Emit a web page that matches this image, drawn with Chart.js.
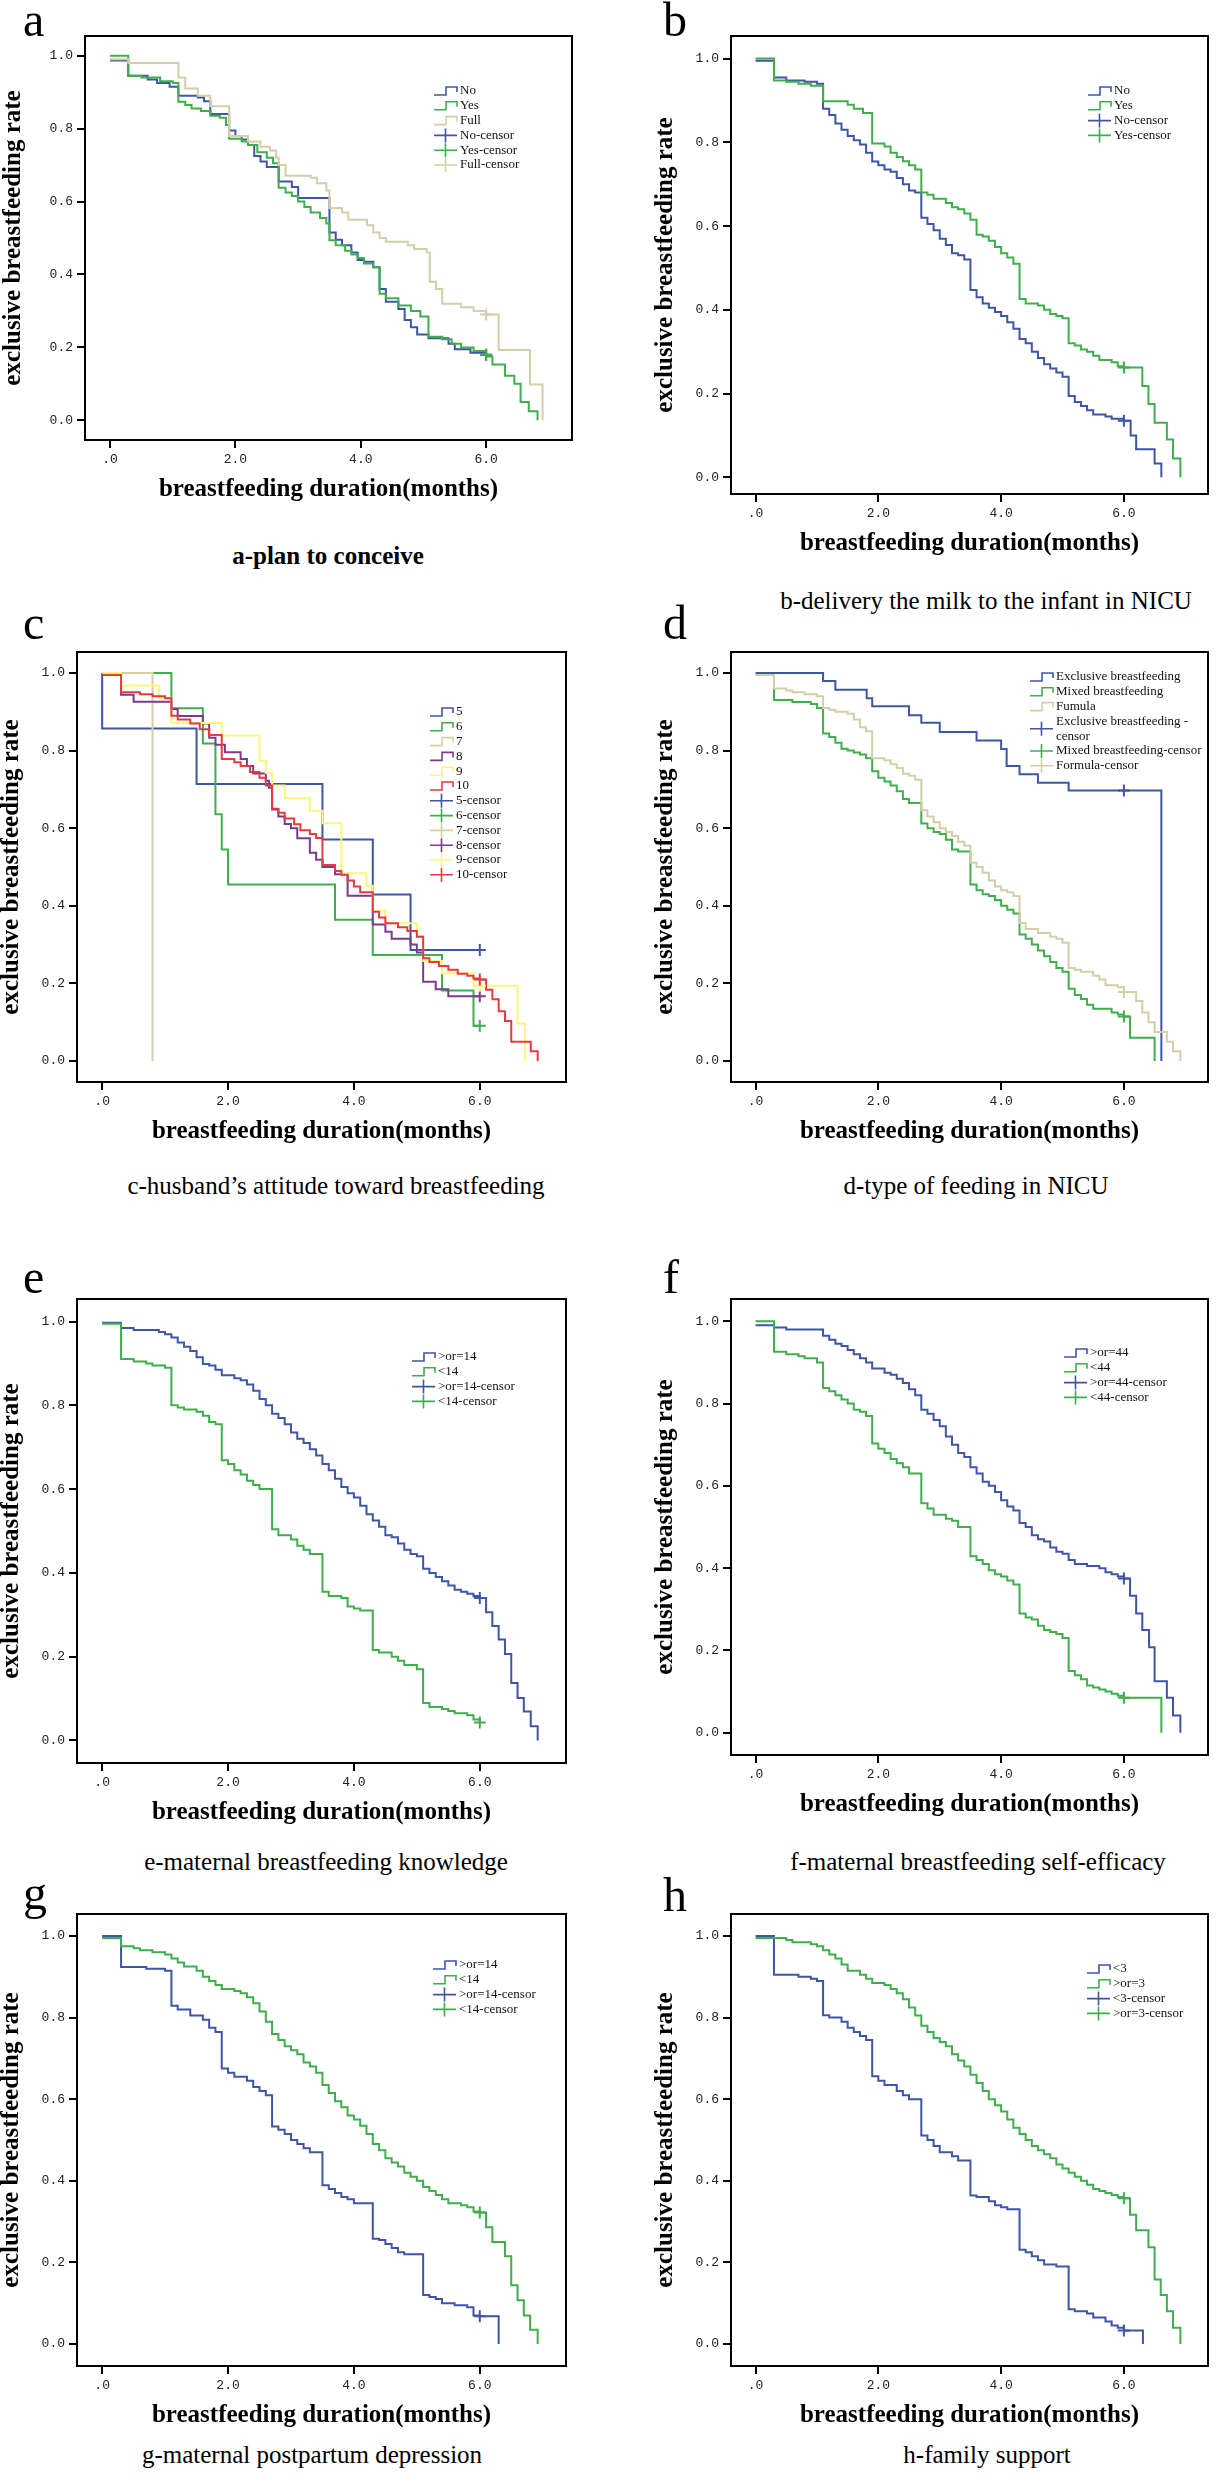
<!DOCTYPE html>
<html>
<head>
<meta charset="utf-8">
<script src="https://cdn.jsdelivr.net/npm/chart.js@4.4.1/dist/chart.umd.min.js"></script>
<style>
  html, body { margin: 0; padding: 0; background: #fff; }
  #page { position: relative; width: 1216px; height: 2482px; overflow: hidden;
          font-family: "Liberation Serif", "Times New Roman", serif; color: #000; }
  canvas { position: absolute; }
  .letter { position: absolute; font-size: 48px; line-height: 48px; }
  .caption { position: absolute; font-size: 25px; line-height: 30px; white-space: nowrap;
             transform: translateX(-50%); }
</style>
</head>
<body>
<div id="page"></div>
<script>
// ticks
var X_TICKS = [0, 2, 4, 6];
var Y_TICKS = [0, 0.2, 0.4, 0.6, 0.8, 1.0];

// survival steps: [month, rate]; censor marks: [month, rate]
// a - plan to conceive
var aNo = [[0,0.987],[0.29,0.945],[0.6,0.935],[0.75,0.925],[0.95,0.915],[1.09,0.89],[1.4,0.885],[1.5,0.875],[1.6,0.84],[1.9,0.795],[2.0,0.78],[2.1,0.77],[2.2,0.755],[2.3,0.725],[2.4,0.71],[2.5,0.695],[2.69,0.655],[2.9,0.64],[3.0,0.61],[3.5,0.515],[3.6,0.495],[3.7,0.48],[3.85,0.46],[3.95,0.44],[4.05,0.435],[4.2,0.42],[4.3,0.36],[4.4,0.325],[4.6,0.305],[4.7,0.275],[4.8,0.255],[4.9,0.235],[5.08,0.225],[5.4,0.21],[5.5,0.195],[5.75,0.185],[6.0,0.18]];
var aYes = [[0,1.0],[0.29,0.945],[0.5,0.94],[0.8,0.93],[1.0,0.925],[1.09,0.874],[1.2,0.865],[1.3,0.855],[1.45,0.848],[1.6,0.835],[1.75,0.83],[1.85,0.81],[1.9,0.772],[2.1,0.765],[2.2,0.755],[2.35,0.735],[2.5,0.72],[2.6,0.705],[2.69,0.638],[2.8,0.625],[2.9,0.615],[3.0,0.60],[3.1,0.585],[3.2,0.57],[3.35,0.555],[3.45,0.54],[3.5,0.494],[3.6,0.48],[3.75,0.465],[3.85,0.455],[3.95,0.445],[4.05,0.43],[4.2,0.42],[4.3,0.347],[4.4,0.335],[4.6,0.315],[4.8,0.30],[4.95,0.285],[5.08,0.229],[5.3,0.222],[5.45,0.21],[5.6,0.20],[5.8,0.19],[6.0,0.175],[6.1,0.153],[6.3,0.122],[6.45,0.10],[6.55,0.05],[6.68,0.025],[6.82,0]];
var aFull = [[0,0.99],[0.29,0.98],[1.09,0.94],[1.2,0.91],[1.4,0.89],[1.6,0.861],[1.9,0.78],[2.2,0.765],[2.4,0.75],[2.55,0.74],[2.65,0.72],[2.69,0.70],[2.8,0.671],[3.2,0.665],[3.3,0.65],[3.45,0.63],[3.5,0.582],[3.7,0.57],[3.8,0.55],[4.1,0.535],[4.2,0.515],[4.3,0.50],[4.4,0.49],[4.75,0.48],[4.85,0.47],[5.05,0.46],[5.1,0.38],[5.2,0.36],[5.3,0.32],[5.6,0.31],[5.8,0.30],[6.0,0.29],[6.2,0.193],[6.7,0.098],[6.9,0]];
var aNoC = [[6.0,0.18]];
var aYesC = [[6.0,0.18]];
var aFullC = [[6.0,0.29]];

// b - delivery the milk
var bNo = [[0,0.995],[0.3,0.955],[0.5,0.948],[0.8,0.945],[1.0,0.94],[1.1,0.88],[1.2,0.865],[1.3,0.845],[1.4,0.83],[1.5,0.815],[1.6,0.805],[1.7,0.795],[1.8,0.775],[1.9,0.754],[2.0,0.745],[2.1,0.735],[2.2,0.73],[2.3,0.715],[2.4,0.70],[2.5,0.685],[2.6,0.68],[2.7,0.62],[2.8,0.605],[2.9,0.59],[3.0,0.57],[3.1,0.555],[3.2,0.535],[3.3,0.53],[3.4,0.52],[3.5,0.447],[3.6,0.43],[3.7,0.415],[3.8,0.405],[3.9,0.395],[4.0,0.385],[4.1,0.37],[4.2,0.355],[4.3,0.33],[4.4,0.32],[4.5,0.30],[4.6,0.285],[4.7,0.27],[4.8,0.26],[4.9,0.25],[5.0,0.24],[5.1,0.194],[5.2,0.18],[5.3,0.17],[5.4,0.16],[5.5,0.15],[5.7,0.145],[5.8,0.14],[6.0,0.135],[6.11,0.10],[6.2,0.067],[6.5,0.033],[6.61,0]];
var bYes = [[0,1.0],[0.3,0.948],[0.5,0.945],[0.7,0.94],[0.9,0.935],[1.1,0.898],[1.5,0.89],[1.6,0.88],[1.75,0.87],[1.9,0.797],[2.1,0.79],[2.2,0.775],[2.3,0.765],[2.4,0.755],[2.5,0.745],[2.6,0.735],[2.7,0.68],[2.8,0.675],[2.9,0.665],[3.1,0.655],[3.2,0.645],[3.3,0.64],[3.4,0.63],[3.5,0.615],[3.6,0.579],[3.7,0.575],[3.8,0.565],[3.9,0.55],[4.0,0.535],[4.1,0.525],[4.2,0.51],[4.3,0.426],[4.4,0.415],[4.6,0.41],[4.7,0.40],[4.8,0.39],[4.9,0.385],[5.0,0.38],[5.1,0.32],[5.2,0.315],[5.3,0.305],[5.4,0.30],[5.5,0.29],[5.6,0.28],[5.8,0.275],[5.9,0.265],[6.0,0.262],[6.3,0.218],[6.4,0.175],[6.5,0.13],[6.7,0.09],[6.8,0.045],[6.92,0]];
var bNoC = [[6.0,0.135]];
var bYesC = [[6.0,0.262]];

// c - husband's attitude
var c5 = [[0,1.0],[0,0.857],[1.5,0.714],[3.5,0.571],[4.3,0.429],[4.9,0.286],[6.0,0.286]];
var c6 = [[0,1.0],[1.1,0.909],[1.6,0.818],[1.8,0.636],[1.9,0.545],[2.0,0.455],[3.7,0.364],[4.3,0.273],[5.4,0.182],[5.9,0.091],[6.0,0.091]];
var c7 = [[0,1.0],[0.8,0]];
var c8 = [[0,1.0],[0.3,0.944],[0.5,0.926],[1.1,0.907],[1.2,0.889],[1.6,0.87],[1.7,0.833],[1.8,0.815],[1.95,0.796],[2.2,0.778],[2.3,0.76],[2.4,0.741],[2.6,0.722],[2.65,0.704],[2.7,0.648],[2.8,0.63],[2.9,0.611],[3.0,0.60],[3.1,0.574],[3.3,0.537],[3.4,0.519],[3.5,0.50],[3.7,0.481],[3.9,0.426],[4.3,0.352],[4.5,0.333],[4.6,0.315],[4.9,0.30],[5.0,0.28],[5.1,0.204],[5.3,0.185],[5.5,0.167],[6.0,0.167]];
var c9 = [[0,1.0],[0.3,0.968],[0.9,0.935],[1.1,0.871],[1.9,0.839],[2.5,0.774],[2.6,0.742],[2.7,0.71],[2.9,0.677],[3.3,0.645],[3.5,0.613],[3.8,0.484],[4.2,0.452],[4.3,0.387],[4.5,0.355],[5.0,0.323],[5.1,0.258],[5.4,0.226],[5.9,0.194],[6.6,0.097],[6.72,0]];
var c10 = [[0,0.995],[0.3,0.95],[0.6,0.945],[0.8,0.94],[1.0,0.935],[1.1,0.89],[1.2,0.88],[1.4,0.87],[1.55,0.855],[1.7,0.84],[1.9,0.778],[2.1,0.77],[2.2,0.76],[2.35,0.745],[2.5,0.73],[2.6,0.71],[2.7,0.65],[2.8,0.64],[2.9,0.625],[3.05,0.61],[3.15,0.595],[3.3,0.585],[3.4,0.575],[3.5,0.505],[3.7,0.49],[3.8,0.48],[3.9,0.465],[4.0,0.45],[4.1,0.435],[4.3,0.385],[4.4,0.37],[4.5,0.355],[4.7,0.345],[4.85,0.335],[5.0,0.32],[5.1,0.265],[5.2,0.255],[5.35,0.245],[5.5,0.235],[5.65,0.225],[5.8,0.22],[5.9,0.213],[6.0,0.21],[6.1,0.184],[6.2,0.159],[6.3,0.128],[6.4,0.103],[6.5,0.05],[6.81,0.025],[6.92,0]];
var c5C = [[6.0,0.286]];
var c6C = [[6.0,0.091]];
var c7C = [];
var c8C = [[6.0,0.167]];
var c9C = [[6.0,0.194]];
var c10C = [[6.0,0.21]];

// d - type of feeding in NICU
var dExcl = [[0,1.0],[1.1,0.979],[1.3,0.957],[1.81,0.935],[1.9,0.914],[2.5,0.891],[2.7,0.872],[3.0,0.848],[3.6,0.826],[4.0,0.804],[4.09,0.76],[4.3,0.739],[4.6,0.717],[5.1,0.697],[6.0,0.697],[6.61,0]];
var dMixed = [[0,0.995],[0.3,0.93],[0.6,0.925],[0.9,0.92],[1.0,0.91],[1.1,0.844],[1.2,0.835],[1.3,0.82],[1.4,0.805],[1.5,0.80],[1.6,0.795],[1.7,0.79],[1.8,0.78],[1.9,0.747],[2.0,0.73],[2.1,0.72],[2.2,0.71],[2.3,0.695],[2.4,0.675],[2.5,0.665],[2.7,0.612],[2.8,0.60],[2.9,0.59],[3.0,0.585],[3.1,0.57],[3.2,0.545],[3.3,0.54],[3.5,0.455],[3.6,0.44],[3.7,0.43],[3.8,0.425],[3.9,0.415],[4.0,0.40],[4.1,0.39],[4.2,0.38],[4.3,0.326],[4.4,0.315],[4.5,0.30],[4.6,0.285],[4.7,0.27],[4.8,0.255],[4.9,0.24],[5.0,0.23],[5.1,0.186],[5.2,0.17],[5.3,0.16],[5.4,0.145],[5.5,0.135],[5.8,0.125],[5.9,0.12],[6.0,0.115],[6.1,0.06],[6.5,0]];
var dFormula = [[0,0.995],[0.3,0.96],[0.5,0.955],[0.6,0.95],[0.8,0.945],[1.0,0.94],[1.1,0.91],[1.2,0.905],[1.3,0.90],[1.5,0.895],[1.6,0.88],[1.7,0.86],[1.8,0.85],[1.9,0.78],[2.1,0.775],[2.2,0.765],[2.3,0.755],[2.4,0.74],[2.5,0.735],[2.6,0.725],[2.7,0.646],[2.8,0.63],[2.9,0.615],[3.0,0.60],[3.1,0.59],[3.2,0.58],[3.3,0.565],[3.4,0.555],[3.5,0.511],[3.6,0.50],[3.7,0.485],[3.8,0.465],[3.9,0.45],[4.0,0.44],[4.1,0.435],[4.2,0.425],[4.3,0.356],[4.4,0.34],[4.6,0.33],[4.8,0.32],[4.9,0.315],[5.0,0.305],[5.1,0.24],[5.2,0.235],[5.3,0.23],[5.5,0.22],[5.6,0.21],[5.7,0.195],[5.9,0.19],[6.0,0.178],[6.2,0.155],[6.3,0.125],[6.4,0.10],[6.5,0.075],[6.7,0.05],[6.8,0.025],[6.92,0]];
var dExclC = [[6.0,0.697]];
var dMixedC = [[6.0,0.115]];
var dFormulaC = [[6.0,0.178]];

// e - maternal breastfeeding knowledge
var eHigh = [[0,0.997],[0.3,0.985],[0.5,0.98],[0.9,0.975],[1.0,0.97],[1.1,0.962],[1.2,0.95],[1.3,0.94],[1.4,0.93],[1.5,0.915],[1.6,0.899],[1.7,0.895],[1.8,0.885],[1.9,0.872],[2.1,0.865],[2.2,0.86],[2.3,0.85],[2.4,0.835],[2.5,0.815],[2.6,0.80],[2.7,0.78],[2.8,0.77],[2.9,0.755],[3.0,0.735],[3.1,0.72],[3.2,0.71],[3.3,0.695],[3.4,0.68],[3.5,0.66],[3.6,0.645],[3.7,0.625],[3.8,0.605],[3.9,0.59],[4.0,0.58],[4.1,0.56],[4.2,0.54],[4.3,0.525],[4.4,0.51],[4.5,0.49],[4.6,0.485],[4.7,0.47],[4.8,0.455],[4.9,0.445],[5.0,0.44],[5.1,0.41],[5.2,0.40],[5.3,0.39],[5.4,0.38],[5.5,0.37],[5.6,0.36],[5.7,0.355],[5.8,0.35],[5.9,0.345],[6.0,0.34],[6.1,0.306],[6.2,0.273],[6.3,0.241],[6.4,0.206],[6.5,0.137],[6.6,0.101],[6.7,0.069],[6.81,0.034],[6.92,0]];
var eLow = [[0,0.995],[0.3,0.911],[0.5,0.905],[0.7,0.90],[0.8,0.895],[1.0,0.89],[1.1,0.80],[1.2,0.795],[1.3,0.79],[1.5,0.785],[1.6,0.775],[1.7,0.76],[1.8,0.755],[1.9,0.669],[2.0,0.66],[2.1,0.645],[2.2,0.635],[2.3,0.62],[2.4,0.61],[2.5,0.60],[2.7,0.504],[2.8,0.49],[3.0,0.48],[3.1,0.465],[3.2,0.455],[3.3,0.445],[3.5,0.355],[3.6,0.345],[3.8,0.34],[3.9,0.32],[4.0,0.315],[4.1,0.31],[4.3,0.216],[4.4,0.21],[4.6,0.20],[4.7,0.19],[4.8,0.18],[5.0,0.17],[5.1,0.089],[5.2,0.08],[5.4,0.075],[5.5,0.07],[5.6,0.065],[5.8,0.06],[5.9,0.05],[6.0,0.043]];
var eHighC = [[6.0,0.34]];
var eLowC = [[6.0,0.043]];

// f - maternal breastfeeding self-efficacy
var fHigh = [[0,0.99],[0.3,0.985],[0.5,0.98],[1.1,0.965],[1.2,0.955],[1.3,0.945],[1.4,0.94],[1.5,0.93],[1.6,0.92],[1.7,0.91],[1.8,0.90],[1.9,0.885],[2.1,0.875],[2.2,0.87],[2.3,0.86],[2.4,0.85],[2.5,0.835],[2.6,0.82],[2.7,0.785],[2.8,0.775],[2.9,0.76],[3.0,0.745],[3.1,0.72],[3.2,0.70],[3.3,0.68],[3.4,0.67],[3.5,0.645],[3.6,0.63],[3.7,0.61],[3.8,0.60],[3.9,0.585],[4.0,0.565],[4.1,0.55],[4.2,0.54],[4.3,0.51],[4.4,0.50],[4.5,0.48],[4.6,0.47],[4.7,0.465],[4.8,0.45],[4.9,0.44],[5.0,0.435],[5.1,0.42],[5.2,0.41],[5.4,0.405],[5.6,0.40],[5.7,0.39],[5.8,0.385],[5.9,0.38],[6.0,0.375],[6.1,0.333],[6.2,0.29],[6.3,0.25],[6.41,0.208],[6.5,0.125],[6.7,0.085],[6.8,0.042],[6.92,0]];
var fLow = [[0,1.0],[0.3,0.926],[0.5,0.92],[0.7,0.915],[0.8,0.91],[1.0,0.90],[1.1,0.838],[1.2,0.83],[1.3,0.82],[1.4,0.81],[1.5,0.80],[1.6,0.785],[1.7,0.78],[1.8,0.77],[1.9,0.703],[2.0,0.69],[2.1,0.68],[2.2,0.665],[2.3,0.655],[2.4,0.645],[2.5,0.63],[2.7,0.558],[2.8,0.545],[2.9,0.53],[3.1,0.52],[3.2,0.515],[3.3,0.50],[3.5,0.429],[3.6,0.42],[3.7,0.41],[3.8,0.395],[3.9,0.385],[4.0,0.38],[4.1,0.37],[4.2,0.36],[4.3,0.29],[4.4,0.28],[4.5,0.275],[4.6,0.26],[4.7,0.25],[4.8,0.245],[4.9,0.24],[5.0,0.23],[5.1,0.15],[5.2,0.14],[5.3,0.13],[5.4,0.115],[5.5,0.11],[5.6,0.105],[5.7,0.10],[5.8,0.095],[5.9,0.09],[6.0,0.085],[6.61,0]];
var fHighC = [[6.0,0.375]];
var fLowC = [[6.0,0.085]];

// g - maternal postpartum depression
var gHigh = [[0,1.0],[0.3,0.924],[0.7,0.92],[1.0,0.915],[1.1,0.829],[1.2,0.82],[1.4,0.805],[1.6,0.795],[1.7,0.775],[1.8,0.765],[1.9,0.675],[2.0,0.665],[2.1,0.655],[2.3,0.645],[2.4,0.63],[2.5,0.62],[2.6,0.61],[2.7,0.533],[2.8,0.525],[2.9,0.515],[3.0,0.50],[3.1,0.49],[3.2,0.48],[3.3,0.47],[3.5,0.389],[3.6,0.38],[3.7,0.37],[3.8,0.36],[3.9,0.355],[4.0,0.345],[4.3,0.258],[4.4,0.255],[4.5,0.245],[4.6,0.235],[4.7,0.225],[4.8,0.22],[5.1,0.12],[5.2,0.115],[5.3,0.11],[5.4,0.10],[5.6,0.095],[5.8,0.09],[5.9,0.07],[6.0,0.068],[6.3,0]];
var gLow = [[0,0.995],[0.3,0.975],[0.5,0.97],[0.6,0.965],[0.8,0.96],[1.0,0.955],[1.1,0.945],[1.2,0.935],[1.3,0.925],[1.5,0.915],[1.6,0.90],[1.7,0.89],[1.8,0.88],[1.9,0.87],[2.1,0.865],[2.2,0.86],[2.3,0.85],[2.4,0.835],[2.5,0.815],[2.6,0.79],[2.7,0.76],[2.8,0.745],[2.9,0.73],[3.0,0.72],[3.1,0.71],[3.2,0.69],[3.3,0.68],[3.4,0.665],[3.5,0.635],[3.6,0.615],[3.7,0.595],[3.8,0.58],[3.9,0.56],[4.0,0.55],[4.1,0.535],[4.2,0.515],[4.3,0.49],[4.4,0.475],[4.5,0.455],[4.6,0.445],[4.7,0.435],[4.8,0.42],[4.9,0.41],[5.0,0.40],[5.1,0.385],[5.2,0.375],[5.3,0.365],[5.4,0.355],[5.5,0.345],[5.7,0.34],[5.8,0.335],[5.9,0.325],[6.0,0.322],[6.1,0.286],[6.2,0.25],[6.4,0.215],[6.5,0.144],[6.6,0.107],[6.7,0.07],[6.8,0.035],[6.92,0]];
var gHighC = [[6.0,0.068]];
var gLowC = [[6.0,0.322]];

// h - family support
var hLow = [[0,1.0],[0.3,0.905],[0.7,0.90],[0.9,0.895],[1.0,0.89],[1.1,0.806],[1.2,0.80],[1.4,0.79],[1.5,0.775],[1.6,0.765],[1.7,0.755],[1.8,0.745],[1.9,0.656],[2.0,0.645],[2.1,0.635],[2.3,0.62],[2.4,0.61],[2.5,0.60],[2.7,0.511],[2.8,0.50],[2.9,0.485],[3.0,0.47],[3.2,0.46],[3.3,0.45],[3.5,0.364],[3.6,0.36],[3.8,0.35],[3.9,0.34],[4.0,0.335],[4.1,0.33],[4.3,0.231],[4.4,0.225],[4.5,0.215],[4.6,0.205],[4.7,0.195],[4.9,0.19],[5.1,0.085],[5.2,0.08],[5.4,0.075],[5.5,0.065],[5.7,0.055],[5.8,0.045],[5.9,0.04],[6.0,0.033],[6.31,0]];
var hHigh = [[0,0.995],[0.5,0.99],[0.6,0.985],[0.9,0.98],[1.0,0.975],[1.1,0.965],[1.2,0.955],[1.3,0.945],[1.4,0.93],[1.5,0.915],[1.7,0.905],[1.8,0.895],[1.9,0.885],[2.1,0.88],[2.2,0.87],[2.3,0.86],[2.4,0.845],[2.5,0.825],[2.6,0.805],[2.7,0.78],[2.8,0.765],[2.9,0.75],[3.0,0.74],[3.1,0.73],[3.2,0.71],[3.3,0.695],[3.4,0.68],[3.5,0.66],[3.6,0.64],[3.7,0.62],[3.8,0.60],[3.9,0.585],[4.0,0.57],[4.1,0.55],[4.2,0.53],[4.3,0.515],[4.4,0.50],[4.5,0.485],[4.6,0.475],[4.7,0.465],[4.8,0.455],[4.9,0.44],[5.0,0.43],[5.1,0.42],[5.2,0.41],[5.3,0.40],[5.4,0.39],[5.5,0.38],[5.6,0.375],[5.7,0.37],[5.8,0.365],[5.9,0.36],[6.0,0.357],[6.1,0.317],[6.2,0.279],[6.4,0.237],[6.5,0.158],[6.6,0.12],[6.7,0.08],[6.8,0.04],[6.92,0]];
var hLowC = [[6.0,0.033]];
var hHighC = [[6.0,0.357]];

var BLUE = '#3f55a5', GREEN = '#3fae4c', TAN = '#d4cfa8',
    PURPLE = '#7e3a8c', YELLOW = '#fbf77a', RED = '#e53b3f';
var SERIF = '"Liberation Serif", "Times New Roman", serif';
var MONO = '"Liberation Mono", "Courier New", monospace';

var X_H = 62; // x axis block height

var panels = [
  { letter: 'a', col: 0, L: 85, T: 36, R: 572, B: 440, yW: 84, yMin: -0.054, lx: 23, ly: 36,
    caption: 'a-plan to conceive', bold: true, cx: 328, cy: 556, legX: 434, legY: 91,
    series: [['No', aNo, BLUE], ['Yes', aYes, GREEN], ['Full', aFull, TAN]],
    censors: [['No-censor', aNoC, BLUE], ['Yes-censor', aYesC, GREEN], ['Full-censor', aFullC, TAN]] },
  { letter: 'b', col: 1, L: 731, T: 36, R: 1213, B: 494, yW: 77.5, yMin: -0.04, lx: 663, ly: 36,
    caption: 'b-delivery the milk to the infant in NICU', cx: 986, cy: 601, legX: 1088, legY: 91,
    series: [['No', bNo, BLUE], ['Yes', bYes, GREEN]],
    censors: [['No-censor', bNoC, BLUE], ['Yes-censor', bYesC, GREEN]] },
  { letter: 'c', col: 0, L: 77, T: 652, R: 566, B: 1082, yW: 77.5, yMin: -0.054, lx: 23, ly: 639,
    caption: 'c-husband\u2019s attitude toward breastfeeding', cx: 336, cy: 1186, legX: 430, legY: 712,
    series: [['5', c5, BLUE], ['6', c6, GREEN], ['7', c7, TAN], ['8', c8, PURPLE], ['9', c9, YELLOW], ['10', c10, RED]],
    censors: [['5-censor', c5C, BLUE], ['6-censor', c6C, GREEN], ['7-censor', c7C, TAN],
              ['8-censor', c8C, PURPLE], ['9-censor', c9C, YELLOW], ['10-censor', c10C, RED]] },
  { letter: 'd', col: 1, L: 731, T: 652, R: 1213, B: 1082, yW: 77.5, yMin: -0.054, lx: 663, ly: 639,
    caption: 'd-type of feeding in NICU', cx: 976, cy: 1186, legX: 1030, legY: 677,
    series: [['Exclusive breastfeeding', dExcl, BLUE], ['Mixed breastfeeding', dMixed, GREEN], ['Fumula', dFormula, TAN]],
    censors: [['Exclusive breastfeeding -\ncensor', dExclC, BLUE], ['Mixed breastfeeding-censor', dMixedC, GREEN], ['Formula-censor', dFormulaC, TAN]] },
  { letter: 'e', col: 0, L: 77, T: 1299, R: 566, B: 1763, yW: 77.5, yMin: -0.054, lx: 23, ly: 1293,
    caption: 'e-maternal breastfeeding knowledge', cx: 326, cy: 1862, legX: 412, legY: 1357,
    series: [['>or=14', eHigh, BLUE], ['<14', eLow, GREEN]],
    censors: [['>or=14-censor', eHighC, BLUE], ['<14-censor', eLowC, GREEN]] },
  { letter: 'f', col: 1, L: 731, T: 1299, R: 1213, B: 1755, yW: 77.5, yMin: -0.054, lx: 663, ly: 1293,
    caption: 'f-maternal breastfeeding self-efficacy', cx: 978, cy: 1862, legX: 1064, legY: 1353,
    series: [['>or=44', fHigh, BLUE], ['<44', fLow, GREEN]],
    censors: [['>or=44-censor', fHighC, BLUE], ['<44-censor', fLowC, GREEN]] },
  { letter: 'g', col: 0, L: 77, T: 1914, R: 566, B: 2366, yW: 77.5, yMin: -0.054, lx: 23, ly: 1909,
    caption: 'g-maternal postpartum depression', cx: 312, cy: 2455, legX: 433, legY: 1965,
    series: [['>or=14', gHigh, BLUE], ['<14', gLow, GREEN]],
    censors: [['>or=14-censor', gHighC, BLUE], ['<14-censor', gLowC, GREEN]] },
  { letter: 'h', col: 1, L: 731, T: 1914, R: 1213, B: 2366, yW: 77.5, yMin: -0.054, lx: 663, ly: 1911,
    caption: 'h-family support', cx: 987, cy: 2455, legX: 1087, legY: 1969,
    series: [['<3', hLow, BLUE], ['>or=3', hHigh, GREEN]],
    censors: [['<3-censor', hLowC, BLUE], ['>or=3-censor', hHighC, GREEN]] }
];

// SPSS style legend: step icon for curves, plus icon for censor marks
var spssLegend = {
  id: 'spssLegend',
  afterDraw: function (chart, args, opts) {
    var ctx = chart.ctx;
    var row = 14.8;
    var y = opts.y;
    ctx.save();
    ctx.font = '13px ' + SERIF;
    ctx.textBaseline = 'middle';
    opts.items.forEach(function (it) {
      var lines = it.label.split('\n');
      var cy = y + (lines.length - 1) * row / 2;
      var x0 = opts.x, x1 = opts.x + 23;
      ctx.strokeStyle = it.color;
      ctx.lineWidth = 1.6;
      ctx.beginPath();
      if (it.censor) {
        ctx.moveTo(x0, cy); ctx.lineTo(x1, cy);
        ctx.moveTo(x0 + 11.5, cy - 7); ctx.lineTo(x0 + 11.5, cy + 7);
      } else {
        ctx.moveTo(x0, cy + 4); ctx.lineTo(x0 + 12, cy + 4);
        ctx.lineTo(x0 + 12, cy - 4); ctx.lineTo(x1, cy - 4); ctx.lineTo(x1, cy + 1);
      }
      ctx.stroke();
      ctx.fillStyle = '#111';
      lines.forEach(function (ln, k) { ctx.fillText(ln, opts.x + 26, y + k * row); });
      y += lines.length * row;
    });
    ctx.restore();
  }
};

var frame = {
  id: 'frame',
  afterDraw: function (chart) {
    var a = chart.chartArea, ctx = chart.ctx;
    ctx.save();
    ctx.strokeStyle = '#000';
    ctx.lineWidth = 2;
    ctx.strokeRect(a.left, a.top, a.right - a.left, a.bottom - a.top);
    ctx.restore();
  }
};

function xy(arr) { return arr.map(function (p) { return { x: p[0], y: p[1] }; }); }

var page = document.getElementById('page');

panels.forEach(function (p) {
  var cl = p.col * 608;
  var ct = p.T - 12;
  var ch = Math.round(p.B + X_H + 4 - ct);
  var cv = document.createElement('canvas');
  cv.width = 608; cv.height = ch;
  cv.style.left = cl + 'px'; cv.style.top = ct + 'px';
  cv.style.width = '608px'; cv.style.height = ch + 'px';
  page.appendChild(cv);

  var letter = document.createElement('div');
  letter.className = 'letter';
  letter.textContent = p.letter;
  letter.style.left = p.lx + 'px';
  letter.style.top = (p.ly - 40) + 'px';
  page.appendChild(letter);

  var cap = document.createElement('div');
  cap.className = 'caption';
  cap.textContent = p.caption;
  cap.style.left = p.cx + 'px';
  cap.style.top = (p.cy - 15) + 'px';
  if (p.bold) cap.style.fontWeight = 'bold';
  page.appendChild(cap);

  var datasets = [];
  var items = [];
  p.series.forEach(function (s, i) {
    datasets.push({
      label: s[0], data: xy(s[1]), stepped: 'before', showLine: true,
      borderColor: s[2], borderWidth: 2, pointRadius: 0, pointHoverRadius: 0,
      fill: false, order: 10 - i
    });
    items.push({ label: s[0], color: s[2], censor: false });
  });
  p.censors.forEach(function (s, i) {
    datasets.push({
      label: s[0], data: xy(s[1]), showLine: false,
      pointStyle: 'cross', pointRadius: 6, pointBorderWidth: 2,
      pointBorderColor: s[2], pointBackgroundColor: s[2], order: -10 - i
    });
    items.push({ label: s[0], color: s[2], censor: true });
  });

  new Chart(cv.getContext('2d'), {
    type: 'line',
    data: { datasets: datasets },
    options: {
      responsive: false,
      animation: false,
      events: [],
      layout: { padding: { left: p.L - cl - p.yW, top: 12, right: cl + 608 - p.R, bottom: 4 } },
      scales: {
        x: {
          type: 'linear', min: -0.4, max: 7.37,
          afterBuildTicks: function (s) { s.ticks = X_TICKS.map(function (v) { return { value: v }; }); },
          afterFit: function (s) { s.height = X_H; },
          ticks: {
            autoSkip: false, maxRotation: 0, padding: 4, color: '#222',
            font: { family: MONO, size: 13 },
            callback: function (v) { return v === 0 ? '.0' : v.toFixed(1); }
          },
          grid: { drawOnChartArea: false, drawTicks: true, tickLength: 8, color: '#000', lineWidth: 2 },
          border: { display: false },
          title: { display: true, text: 'breastfeeding duration(months)', color: '#000', padding: 0,
                   font: { family: SERIF, size: 25, weight: 'bold', lineHeight: 1 } }
        },
        y: {
          type: 'linear', min: p.yMin, max: 1.054,
          afterBuildTicks: function (s) { s.ticks = Y_TICKS.map(function (v) { return { value: v }; }); },
          afterFit: function (s) { s.width = p.yW; },
          ticks: {
            autoSkip: false, padding: 4, color: '#222',
            font: { family: MONO, size: 13 },
            callback: function (v) { return v.toFixed(1); }
          },
          grid: { drawOnChartArea: false, drawTicks: true, tickLength: 8, color: '#000', lineWidth: 2 },
          border: { display: false },
          title: { display: true, text: 'exclusive breastfeeding rate', color: '#000', padding: 0,
                   font: { family: SERIF, size: 25, weight: 'bold', lineHeight: 1 } }
        }
      },
      plugins: {
        legend: { display: false },
        tooltip: { enabled: false },
        spssLegend: { x: p.legX - cl, y: p.legY - ct, items: items }
      }
    },
    plugins: [spssLegend, frame]
  });
});
</script>
</body>
</html>
